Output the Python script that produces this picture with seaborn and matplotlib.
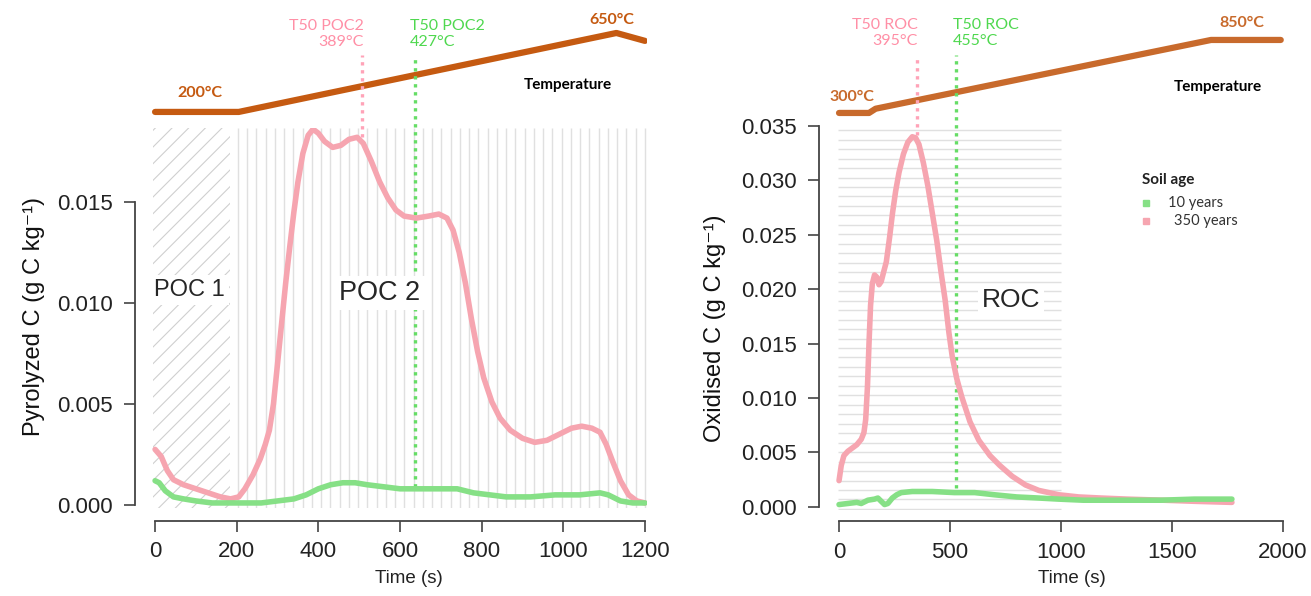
import numpy as np
import pandas as pd
import matplotlib
matplotlib.use("Agg")
import matplotlib.pyplot as plt
import seaborn as sns
from matplotlib.ticker import FormatStrFormatter
from matplotlib.lines import Line2D

sns.set_style("white")
plt.rcParams['font.family'] = ['Liberation Sans', 'DejaVu Sans']
plt.rcParams['hatch.linewidth'] = 0.8

# =========================
# data
# =========================
# left panel : pyrolysis (POC)
pyr_time_350 = [0, 15, 30, 45, 70, 100, 130, 160, 185, 205, 220, 240, 258, 270, 280, 290,
                300, 310, 320, 330, 340, 350, 362, 375, 387, 400, 415, 435, 455, 475, 495,
                510, 530, 550, 570, 590, 610, 640, 670, 695, 715, 730, 745, 760, 775, 790,
                805, 825, 845, 870, 900, 930, 960, 990, 1020, 1045, 1070, 1090, 1105, 1120,
                1140, 1160, 1180, 1200]
pyr_c_350 = [0.00275, 0.0024, 0.0017, 0.00125, 0.0010, 0.0008, 0.0006, 0.0004, 0.0003,
             0.0004, 0.0008, 0.0015, 0.0023, 0.0030, 0.0037, 0.0050, 0.0070, 0.0090, 0.0110,
             0.0128, 0.0145, 0.0160, 0.0174, 0.0183, 0.0186, 0.0184, 0.0180, 0.0177, 0.0178,
             0.0181, 0.0182, 0.0179, 0.0170, 0.0160, 0.0152, 0.0146, 0.0143, 0.0142, 0.0143,
             0.0144, 0.0142, 0.0136, 0.0125, 0.0110, 0.0092, 0.0076, 0.0063, 0.0051, 0.0043,
             0.0037, 0.0033, 0.0031, 0.0032, 0.0035, 0.0038, 0.0039, 0.0038, 0.0036, 0.0030,
             0.0022, 0.0012, 0.0005, 0.0002, 0.0001]
pyr_time_10 = [0, 10, 25, 45, 70, 100, 140, 180, 220, 260, 300, 340, 370, 400, 430, 460, 490,
               520, 560, 600, 650, 700, 740, 780, 820, 860, 920, 980, 1040, 1090, 1110, 1140,
               1170, 1200]
pyr_c_10 = [0.0012, 0.0011, 0.0007, 0.0004, 0.0003, 0.0002, 0.0001, 0.0001, 0.0001, 0.0001,
            0.0002, 0.0003, 0.0005, 0.0008, 0.0010, 0.0011, 0.0011, 0.0010, 0.0009, 0.0008,
            0.0008, 0.0008, 0.0008, 0.0006, 0.0005, 0.0004, 0.0004, 0.0005, 0.0005, 0.0006,
            0.0005, 0.0002, 0.0001, 0.0001]
pyr_temp_time = [0, 205, 1130, 1200]
pyr_temp = [200, 200, 650, 605]
pyr_t50_time = [507, 637]          # 350 years, 10 years
pyr_t50_c = [0.0182, 0.0009]

# right panel : oxidation (ROC)
ox_time_350 = [0, 10, 22, 40, 60, 80, 100, 112, 120, 128, 135, 142, 150, 160, 170, 180, 190,
               200, 213, 228, 241, 255, 270, 290, 310, 330, 345, 360, 380, 400, 420, 440, 460,
               478, 495, 510, 530, 553, 590, 630, 680, 724, 780, 840, 900, 990, 1080, 1180,
               1300, 1460, 1600, 1770]
ox_c_350 = [0.0024, 0.0038, 0.0047, 0.0051, 0.0054, 0.0057, 0.0062, 0.0068, 0.0080, 0.0110,
            0.0150, 0.0185, 0.0205, 0.0213, 0.0211, 0.0204, 0.0207, 0.0215, 0.0225, 0.0248,
            0.0270, 0.0290, 0.0307, 0.0324, 0.0335, 0.0340, 0.0339, 0.0333, 0.0316, 0.0295,
            0.0270, 0.0245, 0.0215, 0.0190, 0.0160, 0.0138, 0.0118, 0.0101, 0.0078, 0.0061,
            0.0047, 0.0038, 0.0028, 0.0020, 0.0015, 0.0011, 0.0009, 0.0008, 0.0007, 0.0006,
            0.0005, 0.0004]
ox_time_10 = [0, 40, 80, 100, 130, 160, 175, 190, 205, 220, 240, 260, 280, 330, 420, 520, 611,
              700, 800, 900, 990, 1100, 1275, 1450, 1600, 1770]
ox_c_10 = [0.0002, 0.0003, 0.0004, 0.0003, 0.0006, 0.0007, 0.0008, 0.0005, 0.0002, 0.0003,
           0.0008, 0.0011, 0.0013, 0.0014, 0.0014, 0.0013, 0.0013, 0.0011, 0.0009, 0.0008,
           0.0007, 0.0006, 0.0006, 0.0006, 0.0007, 0.0007]
ox_temp_time = [0, 135, 165, 1676, 1990]
ox_temp = [300, 300, 332, 850, 850]
ox_t50_time = [350, 525]
ox_t50_c = [0.0342, 0.0017]

ages = ['350 years', '10 years']

PINK = '#F6A5B0'
GREEN = '#86E086'
PINK_DOT = '#FFA3B8'
GREEN_DOT = '#66DD66'
PINK_TXT = '#FF8FA6'
GREEN_TXT = '#4FD84F'
BROWN_L = '#C55A11'
BROWN_R = '#C86A2C'
GRID = '#E0E0E0'
AXC = '#444444'

W, H = 1311, 596


def fx(px):
    return px / W


def fy(py):
    return 1 - py / H


def make_df(t350, c350, t10, c10):
    return pd.concat([
        pd.DataFrame({'time': t350, 'C': c350, 'age': ages[0]}),
        pd.DataFrame({'time': t10, 'C': c10, 'age': ages[1]}),
    ], ignore_index=True)


pyr_df = make_df(pyr_time_350, pyr_c_350, pyr_time_10, pyr_c_10)
ox_df = make_df(ox_time_350, ox_c_350, ox_time_10, ox_c_10)

fig = plt.figure(figsize=(W / 100, H / 100), dpi=100)

# temperature strips first so the T50 dotted lines sit over them
axT1 = fig.add_axes([fx(151), fy(120), 496 / W, 100 / H])
axT2 = fig.add_axes([fx(834.6), fy(118), 452.8 / W, 103 / H])
ax1 = fig.add_axes([fx(151), fy(508), 496 / W, 380 / H])
ax2 = fig.add_axes([fx(834.6), fy(510), 452.8 / W, 390 / H])

# =========================
# temperature ramps
# =========================
sns.lineplot(x=pyr_temp_time, y=pyr_temp, ax=axT1, color=BROWN_L, lw=4.5,
             solid_capstyle='round')
axT1.set_xlim(-10, 1205)
axT1.set_ylim(154, 724)
sns.lineplot(x=ox_temp_time, y=ox_temp, ax=axT2, color=BROWN_R, lw=4.5,
             solid_capstyle='round')
axT2.set_xlim(-20, 2020)
axT2.set_ylim(262, 1038)
for a in (axT1, axT2):
    a.axis('off')
    a.set_facecolor('none')

# =========================
# main panels
# =========================
pal = {ages[0]: PINK, ages[1]: GREEN}
sns.lineplot(data=pyr_df, x='time', y='C', hue='age', hue_order=ages, palette=pal,
             lw=4, legend=False, ax=ax1, sort=False, estimator=None, zorder=5)
sns.lineplot(data=ox_df, x='time', y='C', hue='age', hue_order=ages, palette=pal,
             lw=4, legend=False, ax=ax2, sort=False, estimator=None, zorder=5)

ax1.set_xlim(-10, 1205)
ax1.set_ylim(-0.00015, 0.01866)
ax2.set_xlim(-20, 2020)
ax2.set_ylim(-0.0003, 0.03554)

# background: hatched POC1, vertical stripes POC2, horizontal stripes ROC
ax1.fill_between([-5, 184], -0.00015, 0.01866, facecolor='none', edgecolor='#CFCFCF',
                 hatch='//', lw=0, zorder=1)
ax1.vlines(np.linspace(203, 1200, 45), -0.00015, 0.01866, color=GRID, lw=1, zorder=1)
ax2.hlines(np.linspace(-0.0002, 0.0346, 41), -5, 1000, color=GRID, lw=1, zorder=1)

# T50 dotted lines, running up into the temperature strip
for ax, times, vals in ((ax1, pyr_t50_time, pyr_t50_c), (ax2, ox_t50_time, ox_t50_c)):
    y_top = ax.transData.inverted().transform((0, H - 55))[1]
    for t, v, col in zip(times, vals, [PINK_DOT, GREEN_DOT]):
        ax.plot([t, t], [v, y_top], color=col, lw=2.4, ls=(0, (1, 1.4)),
                clip_on=False, zorder=3)

for ax, ytop, xtop in ((ax1, 0.015, 1200), (ax2, 0.035, 2000)):
    ax.set_facecolor('none')
    sns.despine(ax=ax)
    ax.spines['left'].set_bounds(0, ytop)
    ax.spines['bottom'].set_bounds(0, xtop)
    for s in ('left', 'bottom'):
        ax.spines[s].set_color(AXC)
        ax.spines[s].set_linewidth(1.3)
    ax.yaxis.set_major_formatter(FormatStrFormatter('%.3f'))
    ax.tick_params(axis='both', length=8, width=1.2, color=AXC, labelsize=16,
                   labelcolor='#222222', left=True, bottom=True)
    ax.tick_params(axis='y', pad=8)
    ax.tick_params(axis='x', pad=7)

ax1.spines['left'].set_position(('outward', 11.5))
ax1.spines['bottom'].set_position(('outward', 9))
ax2.spines['left'].set_position(('outward', 11.2))
ax2.spines['bottom'].set_position(('outward', 8))

ax1.set_yticks([0, 0.005, 0.010, 0.015])
ax1.set_xticks([0, 200, 400, 600, 800, 1000, 1200])
ax2.set_yticks([0, 0.005, 0.010, 0.015, 0.020, 0.025, 0.030, 0.035])
ax2.set_xticks([0, 500, 1000, 1500, 2000])

ax1.set_ylabel('Pyrolyzed C (g C kg⁻¹)', fontsize=17, color='#111111')
ax1.yaxis.set_label_coords(-0.214, 0.505)
ax2.set_ylabel('Oxidised C (g C kg⁻¹)', fontsize=17, color='#111111')
ax2.yaxis.set_label_coords(-0.24, 0.467)
ax1.set_xlabel('Time (s)', fontsize=13.5, color='#222222')
ax1.xaxis.set_label_coords(0.52, -0.163)
ax2.set_xlabel('Time (s)', fontsize=13.5, color='#222222')
ax2.xaxis.set_label_coords(0.524, -0.154)

# fraction labels
box = dict(facecolor='white', edgecolor='none', pad=3)
ax1.text(fx(189), fy(290), 'POC 1', fontsize=17, ha='center', va='center',
         transform=fig.transFigure, bbox=box, zorder=4)
ax1.text(fx(380), fy(293), 'POC 2', fontsize=19.5, ha='center', va='center',
         transform=fig.transFigure, bbox=box, zorder=4)
ax2.text(fx(1011), fy(300), 'ROC', fontsize=19, ha='center', va='center',
         transform=fig.transFigure, bbox=box, zorder=4)

# annotations in the temperature strip
ann = dict(family=['Lato', 'DejaVu Sans'], va='center', linespacing=1.15)
fig.text(fx(364), fy(34), 'T50 POC2\n389°C', ha='right', color=PINK_TXT, fontsize=11.5, **ann)
fig.text(fx(410), fy(34), 'T50 POC2\n427°C', ha='left', color=GREEN_TXT, fontsize=11.5, **ann)
fig.text(fx(200), fy(93), '200°C', ha='center', color=BROWN_L, fontsize=11.5,
         weight='bold', **ann)
fig.text(fx(612), fy(20), '650°C', ha='center', color=BROWN_L, fontsize=11.5,
         weight='bold', **ann)
fig.text(fx(568), fy(85), 'Temperature', ha='center', color='black', fontsize=11,
         weight='bold', **ann)

fig.text(fx(918), fy(33), 'T50 ROC\n395°C', ha='right', color=PINK_TXT, fontsize=11.5, **ann)
fig.text(fx(953), fy(33), 'T50 ROC\n455°C', ha='left', color=GREEN_TXT, fontsize=11.5, **ann)
fig.text(fx(852), fy(97), '300°C', ha='center', color=BROWN_R, fontsize=11.5,
         weight='bold', **ann)
fig.text(fx(1242), fy(23), '850°C', ha='center', color=BROWN_R, fontsize=11.5,
         weight='bold', **ann)
fig.text(fx(1218), fy(87), 'Temperature', ha='center', color='black', fontsize=11,
         weight='bold', **ann)

# legend
fig.text(fx(1142), fy(180), 'Soil age', ha='left', color='#222222', fontsize=11,
         weight='bold', **ann)
for py, col, lab, lx in ((203, GREEN, '10 years', 1168), (221, PINK, '350 years', 1174)):
    fig.add_artist(Line2D([fx(1146)], [fy(py)], transform=fig.transFigure, marker='s',
                          markersize=4.5, color=col, lw=0))
    fig.text(fx(lx), fy(py), lab, ha='left', color='#333333', fontsize=10.5, **ann)

fig.savefig('out.png', dpi=100)
